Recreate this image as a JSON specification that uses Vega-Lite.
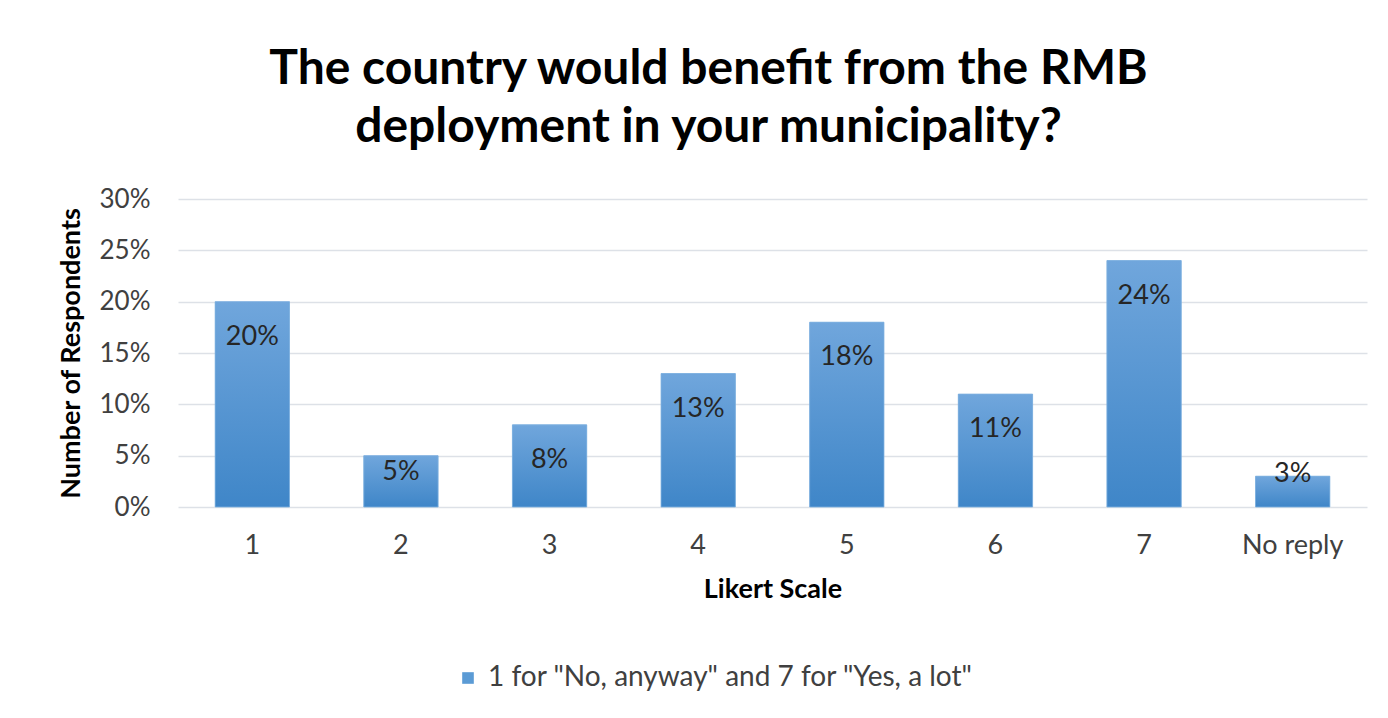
{
  "$schema": "https://vega.github.io/schema/vega-lite/v6.json",
  "autosize": "none",
  "padding": {"left": 178, "top": 199, "right": 21, "bottom": 211},
  "width": 1189,
  "height": 308,
  "background": "white",
  "config": {
    "view": {"stroke": null},
    "font": "Lato"
  },
  "title": {
    "text": ["The country would benefit from the RMB", "deployment in your municipality?"],
    "fontSize": 48,
    "font": "Lato",
    "fontWeight": "bold",
    "color": "#000000",
    "anchor": "middle",
    "dx": -64,
    "offset": 34,
    "lineHeight": 58
  },
  "data": {
    "values": [
      {"scale": "1", "share": 0.20, "series": "1 for \"No, anyway\" and 7 for \"Yes, a lot\""},
      {"scale": "2", "share": 0.05, "series": "1 for \"No, anyway\" and 7 for \"Yes, a lot\""},
      {"scale": "3", "share": 0.08, "series": "1 for \"No, anyway\" and 7 for \"Yes, a lot\""},
      {"scale": "4", "share": 0.13, "series": "1 for \"No, anyway\" and 7 for \"Yes, a lot\""},
      {"scale": "5", "share": 0.18, "series": "1 for \"No, anyway\" and 7 for \"Yes, a lot\""},
      {"scale": "6", "share": 0.11, "series": "1 for \"No, anyway\" and 7 for \"Yes, a lot\""},
      {"scale": "7", "share": 0.24, "series": "1 for \"No, anyway\" and 7 for \"Yes, a lot\""},
      {"scale": "No reply", "share": 0.03, "series": "1 for \"No, anyway\" and 7 for \"Yes, a lot\""}
    ]
  },
  "encoding": {
    "x": {
      "field": "scale",
      "type": "nominal",
      "sort": null,
      "scale": {"paddingInner": 0.5, "paddingOuter": 0.25},
      "axis": {
        "title": "Likert Scale",
        "titleFontSize": 27,
        "titleFontWeight": "bold",
        "titleColor": "#000000",
        "titlePadding": 18,
        "labelFontSize": 27,
        "labelColor": "#404040",
        "labelAngle": 0,
        "labelPadding": 25,
        "ticks": false,
        "tickSize": 0,
        "domain": false
      }
    },
    "y": {
      "field": "share",
      "type": "quantitative",
      "scale": {"domain": [0, 0.3], "nice": false},
      "axis": {
        "title": "Number of Respondents",
        "titleFontSize": 27,
        "titleFontWeight": "bold",
        "titleColor": "#000000",
        "titlePadding": 14,
        "values": [0, 0.05, 0.1, 0.15, 0.2, 0.25, 0.3],
        "format": ".0%",
        "labelFontSize": 26,
        "labelColor": "#404040",
        "labelPadding": 28,
        "ticks": false,
        "tickSize": 0,
        "domain": false,
        "gridColor": "#dde1e7",
        "gridWidth": 1.5
      }
    }
  },
  "layer": [
    {
      "mark": {"type": "bar"},
      "encoding": {
        "color": {
          "field": "series",
          "type": "nominal",
          "scale": {"range": ["#5b9bd5"]},
          "legend": {
            "title": null,
            "orient": "none",
            "legendX": 276,
            "legendY": 465,
            "symbolType": "square",
            "symbolSize": 135,
            "symbolStrokeWidth": 0,
            "labelFontSize": 28,
            "labelColor": "#404040",
            "labelOffset": 6,
            "labelLimit": 900
          }
        }
      }
    },
    {
      "mark": {
        "type": "bar",
        "fill": {
          "gradient": "linear",
          "x1": 0, "y1": 0, "x2": 0, "y2": 1,
          "stops": [
            {"offset": 0, "color": "#70a6dc"},
            {"offset": 1, "color": "#3f86c8"}
          ]
        },
        "stroke": "#7fb1e0",
        "strokeWidth": 0.8
      },
      "encoding": {}
    },
    {
      "transform": [{"filter": "datum.share >= 0.06"}],
      "mark": {"type": "text", "baseline": "middle", "dy": 35, "fontSize": 27, "color": "#262626"},
      "encoding": {"text": {"field": "share", "type": "quantitative", "format": ".0%"}}
    },
    {
      "transform": [{"filter": "datum.share >= 0.04 && datum.share < 0.06"}],
      "mark": {"type": "text", "baseline": "middle", "dy": 16, "fontSize": 27, "color": "#262626"},
      "encoding": {"text": {"field": "share", "type": "quantitative", "format": ".0%"}}
    },
    {
      "transform": [{"filter": "datum.share < 0.04"}],
      "mark": {"type": "text", "baseline": "middle", "dy": -2, "fontSize": 27, "color": "#262626"},
      "encoding": {"text": {"field": "share", "type": "quantitative", "format": ".0%"}}
    }
  ]
}
